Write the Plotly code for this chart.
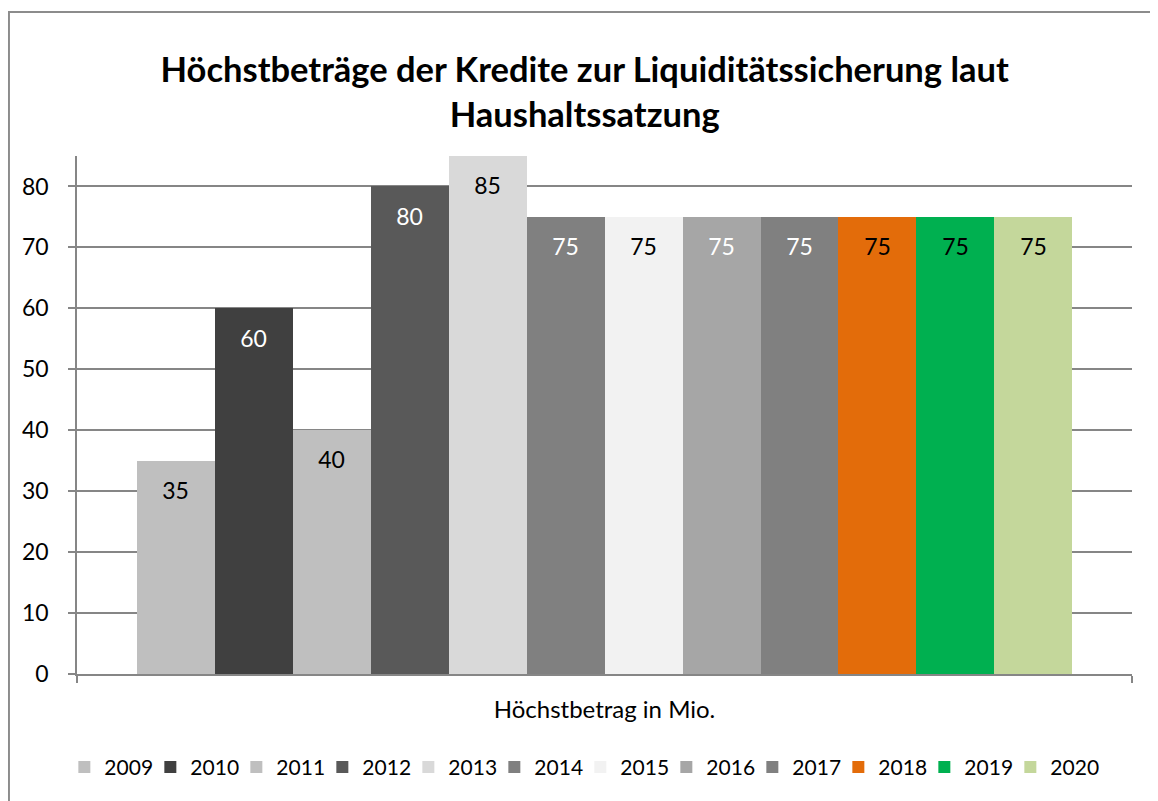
import plotly.graph_objects as go

years = ["2009", "2010", "2011", "2012", "2013", "2014", "2015", "2016", "2017", "2018", "2019", "2020"]
values = [35, 60, 40, 80, 85, 75, 75, 75, 75, 75, 75, 75]
colors = ["#BFBFBF", "#404040", "#BFBFBF", "#595959", "#D9D9D9", "#808080",
          "#F2F2F2", "#A6A6A6", "#808080", "#E36C0A", "#00B050", "#C4D79B"]
label_colors = ["#000000", "#FFFFFF", "#000000", "#FFFFFF", "#000000", "#FFFFFF",
                "#000000", "#FFFFFF", "#FFFFFF", "#000000", "#000000", "#000000"]
category = "Höchstbetrag in Mio."
title = "Höchstbeträge der Kredite zur Liquiditätssicherung laut<br>Haushaltssatzung"

FONT = "Lato, 'Open Sans', sans-serif"
GRAY = "#868686"

fig = go.Figure()
for yr, v, c in zip(years, values, colors):
    fig.add_trace(go.Bar(x=[yr], y=[v], name=yr, marker=dict(color=c, line=dict(width=0)),
                         hoverinfo="name+y"))

# empty trailing legend slot so the last legend label is not clipped
fig.add_trace(go.Bar(x=[years[0]], y=[0], name=" ", opacity=0,
                     marker=dict(color="rgba(0,0,0,0)", line=dict(width=0, color="rgba(0,0,0,0)")),
                     hoverinfo="skip"))

# data labels just inside the top of each bar
fig.add_trace(go.Scatter(x=years, y=values, mode="markers+text", text=[str(v) for v in values],
                         textposition="bottom center",
                         textfont=dict(family=FONT, size=23, color=label_colors),
                         marker=dict(size=32, opacity=0), showlegend=False, hoverinfo="skip",
                         cliponaxis=False))

# category axis carrying the single group label
fig.add_trace(go.Scatter(x=[category], y=[0], xaxis="x2", mode="markers",
                         marker=dict(opacity=0), showlegend=False, hoverinfo="skip"))

# outer chart frame
fig.add_shape(type="rect", xref="paper", yref="paper", x0=-0.0645, x1=1.06, y0=-0.32, y1=1.278,
              line=dict(color="#8C8C8C", width=2), layer="below")

fig.update_layout(
    width=1158, height=801,
    margin=dict(l=69, r=34, t=148, b=135, autoexpand=False),
    paper_bgcolor="white", plot_bgcolor="white",
    barmode="overlay", bargap=0,
    font=dict(family=FONT, color="#000000"),
    title=dict(text=title, x=0.498, xanchor="center", y=1 - 74 / 801, yanchor="top",
               font=dict(family=FONT, size=34.5, color="#000000", weight="bold")),
    xaxis=dict(type="category", categoryarray=years, range=[-1.263, 12.263],
               showticklabels=False, showline=False, ticks="", showgrid=False, zeroline=False),
    xaxis2=dict(type="category", overlaying="x", anchor="y", side="bottom", range=[-0.5, 0.5],
                showline=True, linecolor=GRAY, linewidth=1.5, ticks="outside", tickson="boundaries",
                ticklen=7, tickcolor=GRAY, tickwidth=1.5, showgrid=False,
                tickfont=dict(family=FONT, size=24, color="#000000"), ticklabelstandoff=13),
    yaxis=dict(range=[0, 85], dtick=10, tick0=0, showline=True, linecolor=GRAY, linewidth=1.5,
               showgrid=True, gridcolor=GRAY, gridwidth=1.5, zeroline=False,
               ticks="outside", ticklen=7, tickcolor=GRAY, tickwidth=1.5,
               tickfont=dict(family=FONT, size=23, color="#000000"), ticklabelstandoff=15),
    legend=dict(orientation="h", x=-0.012, xanchor="left", y=-0.18, yanchor="middle",
                entrywidth=41, entrywidthmode="pixels",
                font=dict(family=FONT, size=21, color="#000000"), traceorder="normal"),
    showlegend=True,
)

fig.write_html("out.html")
